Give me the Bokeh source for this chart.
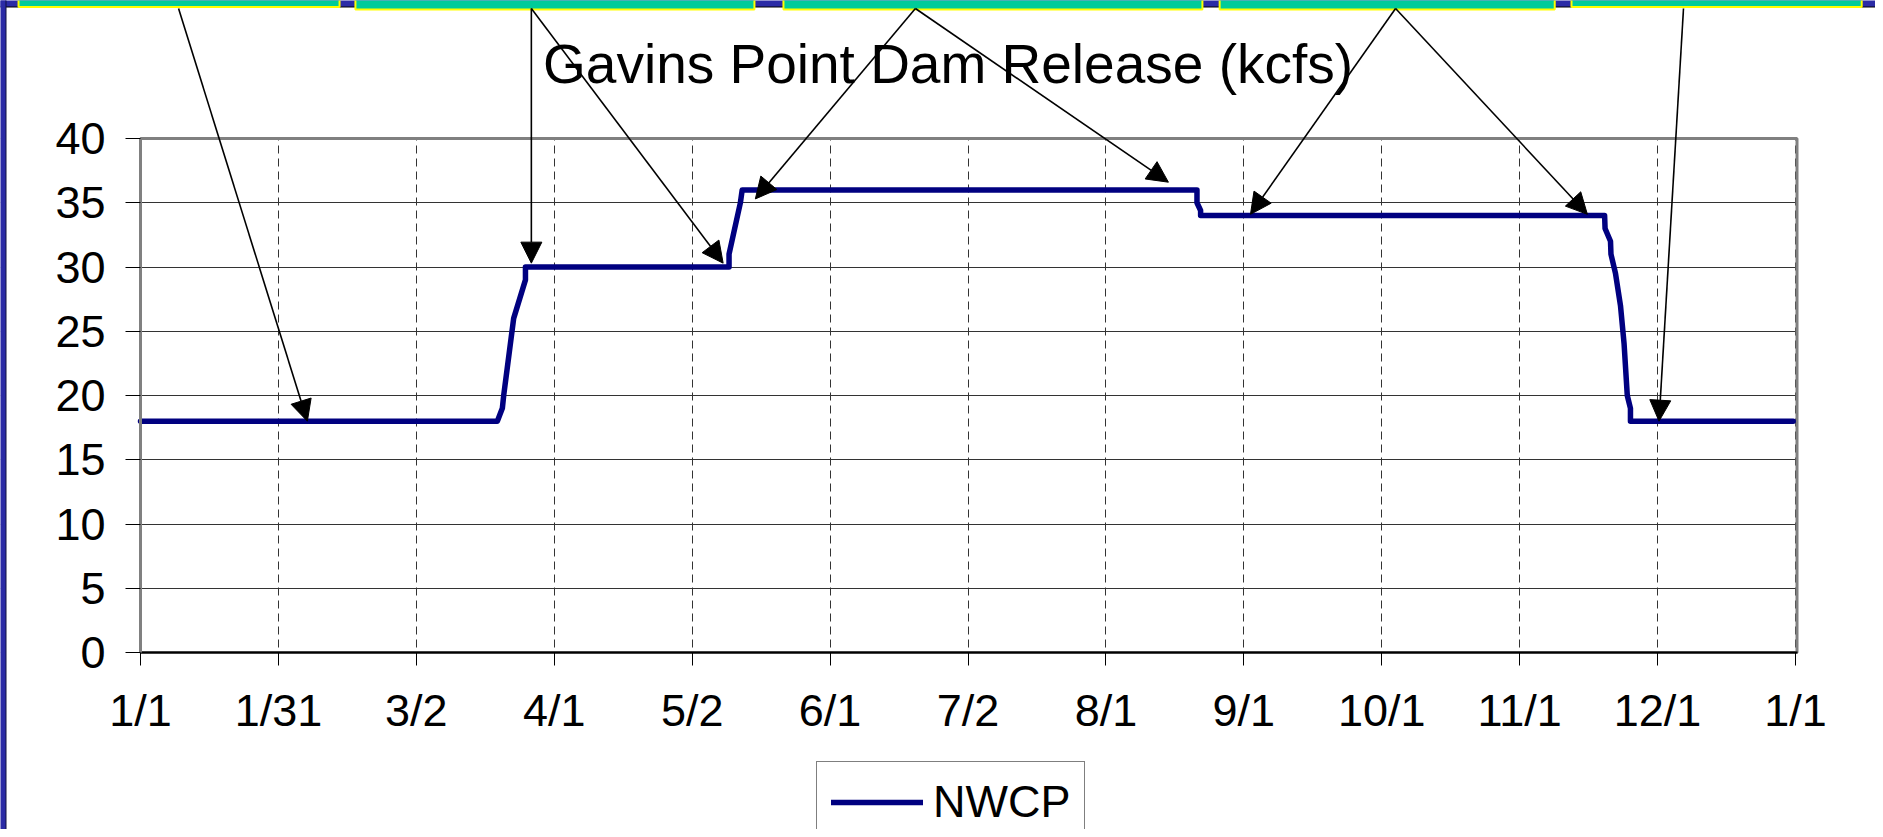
from bokeh.plotting import figure
from bokeh.models import (Range1d, FixedTicker, Arrow, NormalHead, BoxAnnotation,
                          Legend, LegendItem, ColumnDataSource, Label)
from bokeh.embed import file_html
from bokeh.resources import INLINE

# ---------------- data ----------------
title_text = "Gavins Point Dam Release (kcfs)"
series_name = "NWCP"

# day of year (0 = Jan 1) and release in kcfs
release_day = [0, 78.7, 79.8, 80.1, 82.3, 84.9, 84.9, 129.8, 129.8, 132.3, 132.7,
               233.0, 233.0, 233.8, 233.8, 322.9, 323.0, 324.2, 324.3, 325.3,
               326.4, 327.2, 327.9, 328.6, 328.6, 364.5]
release_kcfs = [18, 18, 19, 20, 26, 29, 30, 30, 31, 35, 36,
                36, 35, 34.4, 34, 34, 33, 32, 31, 29.5,
                27, 24, 20, 19, 18, 18]

x_tick_labels = ["1/1", "1/31", "3/2", "4/1", "5/2", "6/1", "7/2", "8/1",
                 "9/1", "10/1", "11/1", "12/1", "1/1"]
y_ticks = [0, 5, 10, 15, 20, 25, 30, 35, 40]

# callout arrows: start (at the note boxes above the chart) -> target on the series
arrow_start_day = [8.4, 86.2, 86.2, 170.9, 170.9, 276.8, 276.8, 340.3]
arrow_end_day = [36.8, 86.2, 128.5, 135.6, 226.7, 244.8, 319.1, 334.9]
arrow_end_kcfs = [18.0, 30.3, 30.3, 35.3, 36.6, 34.1, 34.1, 18.0]

# note boxes across the top (day extents)
note_left_day = [-26.9, 47.4, 141.8, 238.0, 315.6]
note_right_day = [43.9, 135.4, 234.2, 311.9, 379.6]

DAYS = 365.0
def to_m(d):  # day -> month-index axis units
    return d * 12.0 / DAYS

FONT = "Liberation Sans"
BLUE = "#2B2BA6"
NAVY = "#000080"

# ---------------- geometry (pixels) ----------------
W, H = 1875, 829
X0_PX, Y0_PX = 140, 652          # where (1/1, 0) sits
PX_PER_M = 1655 / 12.0
PX_PER_K = 514 / 40.0

def mx(px):   # pixel column -> x units
    return (px - X0_PX) / PX_PER_M

def ky(py):   # pixel row -> y units
    return (Y0_PX - py) / PX_PER_K

p = figure(width=W, height=H, output_backend="svg", toolbar_location=None,
           title=None,
           x_range=Range1d(mx(0), mx(W)), y_range=Range1d(ky(H), ky(0)),
           min_border_left=0, min_border_right=0,
           min_border_top=0, min_border_bottom=0,
           background_fill_color="white", border_fill_color="white")
p.outline_line_color = None

yax = p.yaxis[0]
yax.fixed_location = 0
yax.ticker = FixedTicker(ticks=y_ticks)
yax.bounds = (0, 40)
yax.axis_line_color = "#808080"
yax.axis_line_width = 3
yax.major_tick_line_color = "black"
yax.major_tick_line_width = 1
yax.major_tick_out = 15
yax.major_tick_in = 0
yax.minor_tick_line_color = None
yax.major_label_text_font = FONT
yax.major_label_text_font_size = "45px"
yax.major_label_text_color = "black"
yax.major_label_standoff = 20

xax = p.xaxis[0]
xax.fixed_location = 0
xax.ticker = FixedTicker(ticks=list(range(len(x_tick_labels))))
xax.major_label_overrides = {i: lab for i, lab in enumerate(x_tick_labels)}
xax.bounds = (0, 12 + 2 / PX_PER_M)
xax.axis_line_color = "black"
xax.axis_line_width = 2
xax.major_tick_line_color = "black"
xax.major_tick_line_width = 1
xax.major_tick_out = 13
xax.major_tick_in = 0
xax.minor_tick_line_color = None
xax.major_label_text_font = FONT
xax.major_label_text_font_size = "45px"
xax.major_label_text_color = "black"
xax.major_label_standoff = 19

p.ygrid.grid_line_color = "#333333"
p.ygrid.grid_line_width = 1
p.xgrid.grid_line_color = "#333333"
p.xgrid.grid_line_width = 1
p.xgrid.grid_line_dash = "8 5"

# keep the grid inside the plot area: white covers painted right after the grid
XR = 12 + 1.5 / PX_PER_M
for l, rr, b, t in [(mx(-20), mx(W + 20), 40, ky(-20)),        # above
                    (mx(-20), mx(W + 20), ky(H + 20), 0),      # below
                    (mx(-20), 0, ky(H + 20), ky(-20)),         # left
                    (XR, mx(W + 20), ky(H + 20), ky(-20))]:    # right
    p.add_layout(BoxAnnotation(left=l, right=rr, bottom=b, top=t, level="underlay",
                               fill_color="white", fill_alpha=1.0, line_color=None))
# plot-area border (under the axes)
p.add_layout(BoxAnnotation(left=0, right=XR, bottom=0, top=40, level="underlay",
                           fill_alpha=0, line_color="#808080", line_width=3,
                           line_alpha=1.0))

# series
r = p.line(x=[to_m(d) for d in release_day], y=release_kcfs,
           line_color=NAVY, line_width=5.5, line_join="round", line_cap="round")

# blue frame strips and the note boxes at the very top
p.add_layout(BoxAnnotation(left=mx(-20), right=mx(W + 20), bottom=ky(6.5), top=ky(-20),
                           fill_color=BLUE, fill_alpha=1.0,
                           line_color="black", line_width=1, line_alpha=1.0))
p.add_layout(BoxAnnotation(left=mx(-20), right=mx(5.5), bottom=ky(H + 20), top=ky(-20),
                           fill_color=BLUE, fill_alpha=1.0,
                           line_color="#101040", line_width=1, line_alpha=1.0))
note_bottom_px = [6.5, 9, 9, 9, 6.5]
for l, rr, b in zip(note_left_day, note_right_day, note_bottom_px):
    p.add_layout(BoxAnnotation(left=to_m(l), right=to_m(rr), bottom=ky(b),
                               top=ky(-20), fill_color="#00CC99", fill_alpha=1.0,
                               line_color="#FFFF00", line_width=2, line_alpha=1.0))

# title
p.add_layout(Label(x=to_m(178.1), y=45.8, text=title_text,
                   text_font=FONT, text_font_size="55px",
                   text_color="black", text_align="center",
                   text_baseline="alphabetic"))

# arrows
asrc = ColumnDataSource(dict(
    xs=[to_m(d) for d in arrow_start_day], ys=[ky(8)] * len(arrow_start_day),
    xe=[to_m(d) for d in arrow_end_day], ye=arrow_end_kcfs))
p.add_layout(Arrow(x_start="xs", y_start="ys", x_end="xe", y_end="ye", source=asrc,
                   line_color="black", line_width=1.6,
                   end=NormalHead(size=21, fill_color="black", line_color="black",
                                  line_width=1)))

legend = Legend(items=[LegendItem(label=series_name, renderers=[r])],
                location=(816, -14), orientation="vertical",
                border_line_color="black", border_line_width=1,
                background_fill_color="white", background_fill_alpha=1.0,
                padding=14, margin=0, spacing=0,
                glyph_width=92, glyph_height=42, label_height=42,
                label_standoff=10, label_text_font=FONT,
                label_text_font_size="45px", label_text_color="black")
p.add_layout(legend)

open("out.html", "w").write(file_html(p, INLINE))
